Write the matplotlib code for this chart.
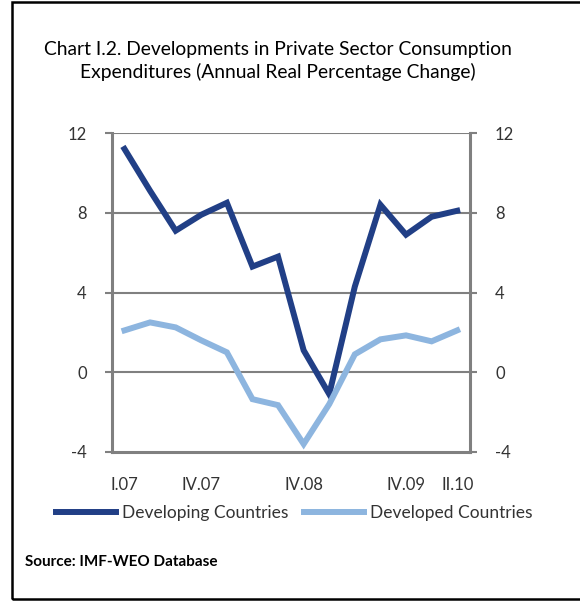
import matplotlib
matplotlib.use("Agg")
import matplotlib.pyplot as plt
from matplotlib.patches import Rectangle

plt.rcParams['font.family'] = ['Lato', 'DejaVu Sans']

quarters = ["I.07", "II.07", "III.07", "IV.07", "I.08", "II.08", "III.08", "IV.08",
            "I.09", "II.09", "III.09", "IV.09", "I.10", "II.10"]
developing = [11.2, 9.1, 7.1, 7.9, 8.5, 5.3, 5.8, 1.1, -1.1, 4.3, 8.4, 6.9, 7.8, 8.1]
developed = [2.1, 2.5, 2.25, 1.6, 1.0, -1.35, -1.65, -3.6, -1.6, 0.9, 1.65, 1.85, 1.55, 2.1]
shown_labels = {"I.07", "IV.07", "IV.08", "IV.09", "II.10"}
yticks = [-4, 0, 4, 8, 12]

title = "Chart I.2. Developments in Private Sector Consumption\nExpenditures (Annual Real Percentage Change)"
source = "Source: IMF-WEO Database"

dark = "#213f86"
light = "#8db5df"
gray = "#808080"
txt = "#333333"

fig = plt.figure(figsize=(5.8, 6.01), dpi=100)
ax = fig.add_axes([111.7/580, 1-452/601, (470-111.7)/580, (452-133)/601])

x = list(range(len(quarters)))
ax.plot(x, developing, color=dark, lw=4.3, solid_joinstyle='miter', label="Developing Countries", zorder=3)
ax.plot(x, developed, color=light, lw=4.3, solid_joinstyle='miter', label="Developed Countries", zorder=3)

ax.set_xlim(-0.5, len(quarters) - 0.5)
ax.set_ylim(-4, 12)
ax.set_yticks(yticks)
ax.set_yticklabels([str(v) for v in yticks])
for v in yticks[1:]:
    ax.axhline(v, color=gray, lw=1.5, zorder=1)

ax.set_xticks([i for i, q in enumerate(quarters) if q in shown_labels])
ax.set_xticklabels([q for q in quarters if q in shown_labels])
ax.tick_params(axis='x', length=0, pad=18, labelsize=12, colors=txt)
ax.tick_params(axis='y', which='both', left=True, right=True, labelleft=True, labelright=True,
               direction='out', length=5, width=1.5, color=gray, labelsize=12, labelcolor=txt, pad=13)

ax.spines['top'].set_visible(False)
for side in ['left', 'right', 'bottom']:
    ax.spines[side].set_color(gray)
    ax.spines[side].set_linewidth(2.2)

leg = ax.legend(loc='center', bbox_to_anchor=(294.5/580, 1-513/601), bbox_transform=fig.transFigure,
                ncol=2, frameon=False, fontsize=12.5, handlelength=3.45, handletextpad=0.35,
                columnspacing=0.9, labelcolor=txt)

fig.text(278/580, 1-61/601, title, ha='center', va='center', fontsize=13.9, color='black', linespacing=1.3)
fig.text(25/580, 1-562/601, source, ha='left', va='center', fontsize=11, color='black', weight='bold')

fig.add_artist(Rectangle((12/580, 1-599/601), 2.0, (599-2)/601, transform=fig.transFigure,
                         fill=False, edgecolor='black', lw=1.8))

fig.savefig("out.png", dpi=100)
